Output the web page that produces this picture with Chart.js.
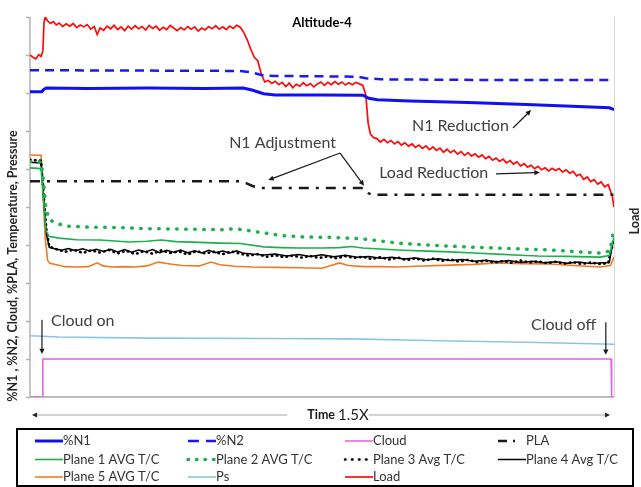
<!DOCTYPE html>
<html>
<head>
<meta charset="utf-8">
<script src="https://cdn.jsdelivr.net/npm/chart.js@4.4.0/dist/chart.umd.min.js"></script>
<style>
body{margin:0;background:#fff;}
canvas{display:block;}
</style>
</head>
<body>
<canvas id="myChart" width="641" height="487"></canvas>
<script>
// x = time in % of the run, y = % of the axis (0-100)
let n1 = [[0,80.3],[2.0,80.3],[2.4,81.0],[2.8,81.3],[10,81.2],[20,81.3],[30,81.2],[36.5,81.3],[38,80.8],[40,79.8],[42,79.5],[50,79.5],[57,79.4],[58,78.6],[59.5,78.2],[65,77.9],[75,77.5],[85,77.0],[95,76.4],[99.2,76.1],[100,75.6]];
let n2 = [[0,86.0],[20,85.9],[36,85.8],[38,85.4],[40,84.6],[42,84.5],[56,84.3],[57.5,83.9],[60,83.6],[80,83.4],[100,83.4]];
let cloud = [[0,0],[2.1,0],[2.2,10],[99.5,10],[99.6,0],[100,0]];
let pla = [[0,56.8],[36,56.8],[37,56.3],[38,55.6],[39,55.1],[40,55.0],[57,55.0],[58,53.6],[58.6,53.2],[100,53.2]];
let plane1 = [[0,60.3],[1.9,60.1],[2.3,52],[2.7,44],[3.2,42.3],[5,41.8],[8,41.4],[12,41.3],[17,40.8],[20,41.0],[22.5,41.3],[25,40.9],[29,40.7],[32.5,40.5],[36,40.4],[40,39.5],[43,39.3],[46,39.2],[50,39.2],[53,39.3],[55,39.6],[57,39.2],[63,38.7],[68,38.4],[72,38.2],[76,37.9],[80,37.6],[84,37.3],[87,37.1],[92,37.0],[97.6,36.8],[99.2,37.2],[100,42.0]];
let plane2 = [[0,62.0],[1.9,61.8],[2.3,57],[2.7,50],[3.2,47],[4,46.0],[6,45.0],[10,44.7],[15,44.6],[20,44.3],[25,44.2],[30,44.1],[33,44.0],[35,44.3],[37,43.9],[40,43.2],[43,42.5],[47,42.1],[52,42.0],[57,41.6],[63,40.5],[68,40.0],[72,39.7],[76,39.4],[80,39.2],[85,38.9],[89,38.7],[94,38.2],[97.6,37.9],[99.3,38.4],[100,44.5]];
let plane3 = [[0,62.4],[1.9,62.2],[2.4,52],[2.8,44],[3.3,39.6],[4.5,38.9],[6,38.2],[7.5,38.8],[9,37.9],[10.5,38.6],[12,38.0],[13.5,38.7],[15,37.8],[16.5,38.5],[18,37.6],[19.5,38.4],[21,37.7],[22.5,38.6],[24,37.9],[25.5,38.3],[27,37.5],[28.5,38.4],[30,37.8],[31.5,38.2],[33,37.6],[34.5,38.3],[36,37.7],[37.5,37.2],[39,37.6],[40.5,36.9],[42,37.3],[43.5,36.8],[45,37.2],[46.5,36.7],[48,37.1],[49.5,36.6],[51,37.0],[52.5,36.5],[54,37.1],[55.5,36.6],[57,36.9],[58.5,36.3],[60,36.8],[61.5,36.2],[63,36.7],[64.5,36.0],[66,36.5],[67.5,35.9],[69,36.4],[70.5,35.8],[72,36.2],[73.5,35.6],[75,36.1],[76.5,35.5],[78,35.9],[79.5,35.4],[81,35.8],[82.5,35.3],[84,35.9],[85.5,35.4],[87,35.7],[88.5,35.2],[90,35.6],[91.5,35.1],[93,35.5],[94.5,35.0],[96,35.4],[97.5,35.0],[99.0,35.2],[99.5,38.5],[100,41.3]];
let plane4 = [[0,61.8],[1.9,61.6],[2.4,51],[2.8,43],[3.3,39.4],[4.2,39.0],[5.4,38.6],[6.6,39.1],[7.8,38.5],[9,39.0],[10.2,38.4],[11.4,38.9],[12.6,38.3],[13.8,38.9],[15,38.2],[16.2,38.8],[17.4,38.1],[18.6,38.7],[19.8,38.2],[21,38.8],[22.2,38.0],[23.4,38.6],[24.6,38.1],[25.8,38.7],[27,38.0],[28.2,38.5],[29.4,37.9],[30.6,38.6],[31.8,38.0],[33,38.4],[34.2,37.9],[35.4,38.5],[36.6,37.8],[38,37.6],[40,37.4],[42,37.6],[44,37.1],[46,37.5],[48,37.0],[50,37.4],[52,36.9],[54,37.3],[56,36.8],[58,37.0],[60,36.5],[62,36.8],[64,36.3],[66,36.6],[68,36.1],[70,36.4],[72,35.9],[74,36.2],[76,35.7],[78,36.0],[80,35.6],[82,35.9],[84,35.4],[86,35.7],[88,35.3],[90,35.6],[92,35.2],[94,35.5],[96,35.1],[98,35.3],[99.2,35.4],[99.6,39],[100,41.8]];
let plane5 = [[0,63.7],[1.9,63.6],[2.2,55],[2.6,42],[3.0,36.0],[3.4,35.2],[4.5,34.8],[6,34.3],[8,34.2],[10,34.3],[11.5,35.3],[12.5,34.5],[14,34.2],[16,34.3],[18,34.2],[20,34.5],[22,35.5],[24,35.0],[26,34.6],[29,34.5],[31,35.5],[32.5,34.8],[35,34.4],[38,34.2],[42,34.1],[46,34.0],[50,33.9],[53,35.3],[54.5,34.6],[57,34.3],[60,34.3],[63,34.2],[66,34.4],[72,34.7],[76,34.9],[80,35.3],[84,35.1],[89,35.0],[93,34.6],[97.6,34.2],[99.4,34.6],[100,36.8]];
let ps = [[0,16.1],[5,15.8],[20,15.5],[40,15.4],[55,15.3],[70,14.8],[85,14.4],[100,13.9]];
let load = [[0,90.0],[0.5,89.4],[1.0,89.0],[1.5,90.1],[1.9,89.6],[2.2,91.0],[2.4,98.5],[2.6,100],[3.0,99.0],[3.5,98.3],[4.0,98.8],[4.5,97.9],[5.0,98.4],[5.6,97.5],[6.2,98.2],[6.8,97.6],[7.4,98.3],[8.0,97.2],[8.6,97.9],[9.2,97.4],[9.8,98.0],[10.4,96.8],[11.0,97.5],[11.5,95.4],[12.0,97.1],[12.6,96.5],[13.2,97.6],[13.8,96.9],[14.4,97.8],[15.0,96.7],[15.6,97.4],[16.2,96.4],[16.8,97.6],[17.4,96.8],[18.0,97.7],[18.6,96.9],[19.2,97.5],[19.8,96.6],[20.4,97.8],[21.0,97.0],[21.6,97.6],[22.2,96.5],[22.8,97.3],[23.4,96.7],[24.0,97.8],[24.6,97.1],[25.2,96.4],[25.8,97.2],[26.4,96.6],[27.0,97.5],[27.6,96.8],[28.2,97.4],[28.8,96.3],[29.4,97.1],[30.0,96.6],[30.6,97.5],[31.2,96.9],[31.8,97.7],[32.4,96.8],[33.0,97.4],[33.6,96.7],[34.2,97.6],[34.8,97.0],[35.4,97.8],[36.0,97.3],[36.5,96.2],[37.2,94.0],[37.8,91.5],[38.4,89.4],[39.0,88.5],[39.6,85.0],[40.2,82.9],[40.8,83.3],[41.4,82.5],[42.0,83.1],[42.6,82.2],[43.2,82.8],[43.8,81.7],[44.4,82.6],[45.0,81.4],[45.6,82.3],[46.2,81.8],[46.8,82.7],[47.4,81.9],[48.0,82.5],[48.6,81.6],[49.2,82.4],[49.8,82.9],[50.4,82.0],[51.0,82.8],[51.6,82.2],[52.2,83.0],[52.8,82.3],[53.4,82.9],[54.0,82.1],[54.6,82.7],[55.2,82.2],[55.8,82.8],[56.4,82.4],[57.0,82.0],[57.5,79.5],[57.9,72.0],[58.3,69.2],[58.8,68.3],[59.4,68.0],[60.0,67.1],[60.6,67.8],[61.2,66.9],[61.8,67.5],[62.4,66.6],[63.0,67.2],[63.6,66.3],[64.2,66.9],[64.8,66.0],[65.4,66.6],[66.0,65.7],[66.6,66.3],[67.2,65.4],[67.8,66.1],[68.4,65.1],[69.0,65.8],[69.6,64.9],[70.2,65.5],[70.8,64.4],[71.4,65.2],[72.0,64.3],[72.6,64.9],[73.2,63.9],[73.8,64.6],[74.4,63.6],[75.0,64.3],[75.6,63.4],[76.2,64.0],[76.8,63.1],[77.4,63.7],[78.0,62.7],[78.6,63.3],[79.2,62.3],[79.8,62.9],[80.4,62.0],[81.0,62.6],[81.6,61.6],[82.2,62.2],[82.8,61.3],[83.4,61.9],[84.0,60.8],[84.6,61.4],[85.2,60.5],[85.8,61.0],[86.4,60.1],[87.0,60.7],[87.6,59.8],[88.2,60.3],[88.8,59.5],[89.4,60.2],[90.0,59.6],[90.6,60.1],[91.2,59.2],[91.8,59.8],[92.4,58.9],[93.0,59.4],[93.6,58.2],[94.2,58.6],[94.8,57.3],[95.4,57.9],[96.0,56.7],[96.6,57.2],[97.2,56.0],[97.8,56.6],[98.4,55.3],[99.0,55.9],[99.4,54.2],[99.7,53.0],[100,50.0]];

let yTicks = [0,10,20,30,40,50,60,70,80,90,100];

// text notes, positions in data units (x = time %, y = axis %)
let notes = [
    {text:'N1 Adjustment', x:34.1, y:66.8},
    {text:'N1 Reduction', x:65.4, y:71.3},
    {text:'Load Reduction', x:59.8, y:58.9},
    {text:'Cloud on', x:3.6, y:20.0},
    {text:'Cloud off', x:85.8, y:18.9}
];
let arrows = [
    [53.1,64.2,40.8,57.1],
    [53.1,64.2,57.2,55.6],
    [82.7,70.8,85.8,75.5],
    [79.8,58.7,87.3,59.1],
    [2.05,20.3,2.05,11.3],
    [98.6,19.7,98.6,11.1]
];

let FONT = 'Lato, "Open Sans", sans-serif';
let toXY = arr => arr.map(p => ({x:p[0], y:p[1]}));

// legend sample dash, where it differs from the line itself
let legendDash = {'%N2':[11,7], 'PLA':[9,6,2,30], 'Plane 2 AVG T/C':[0.5,8], 'Plane 3 Avg T/C':[0.5,6.5]};

let ds = (label, arr, color, width, dash, extra) => Object.assign({
    label: label,
    data: toXY(arr),
    borderColor: color,
    backgroundColor: color,
    borderWidth: width,
    borderDash: dash,
    pointRadius: 0,
    fill: false,
    tension: 0,
    yAxisID: 'y'
}, extra || {});

let datasets = [
    ds('%N1', n1, '#1010F0', 3, []),
    ds('%N2', n2, '#1A1AF0', 2.5, [9,6]),
    ds('Cloud', cloud, '#E55CE5', 1.5, []),
    ds('PLA', pla, '#1A1A1A', 2.5, [10,7,3,7]),
    ds('Plane 1 AVG T/C', plane1, '#1DB04C', 1.6, []),
    ds('Plane 2 AVG T/C', plane2, '#1DB04C', 3.5, [0.5,8.5], {borderCapStyle:'round'}),
    ds('Plane 3 Avg T/C', plane3, '#000000', 2.6, [0.5,4.5], {borderCapStyle:'round'}),
    ds('Plane 4 Avg T/C', plane4, '#000000', 1.5, []),
    ds('Plane 5 AVG T/C', plane5, '#F07A22', 1.6, []),
    ds('Ps', ps, '#8CC6DC', 1.6, []),
    ds('Load', load, '#FF0A0A', 1.7, [], {yAxisID:'y2'})
];

let arrowLine = (ctx, x1, y1, x2, y2, head, color) => {
    let a = Math.atan2(y2 - y1, x2 - x1);
    ctx.strokeStyle = color;
    ctx.fillStyle = color;
    ctx.lineWidth = 1.2;
    ctx.setLineDash([]);
    ctx.beginPath();
    ctx.moveTo(x1, y1);
    ctx.lineTo(x2 - Math.cos(a) * head * 0.8, y2 - Math.sin(a) * head * 0.8);
    ctx.stroke();
    ctx.beginPath();
    ctx.moveTo(x2, y2);
    ctx.lineTo(x2 - head * Math.cos(a - 0.45), y2 - head * Math.sin(a - 0.45));
    ctx.lineTo(x2 - head * Math.cos(a + 0.45), y2 - head * Math.sin(a + 0.45));
    ctx.closePath();
    ctx.fill();
};

let decor = {
    id: 'decor',
    beforeDatasetsDraw(chart) {
        let ctx = chart.ctx, a = chart.chartArea, y = chart.scales.y;
        ctx.save();
        // right frame line
        ctx.strokeStyle = '#D8D8D8';
        ctx.lineWidth = 1;
        ctx.beginPath();
        ctx.moveTo(a.right + 0.5, a.top);
        ctx.lineTo(a.right + 0.5, a.bottom);
        ctx.stroke();
        // left axis + ticks
        ctx.strokeStyle = '#B4B4B4';
        ctx.lineWidth = 1.5;
        ctx.beginPath();
        ctx.moveTo(a.left, a.top);
        ctx.lineTo(a.left, a.bottom);
        yTicks.forEach(v => {
            let py = Math.round(y.getPixelForValue(v)) + 0.5;
            ctx.moveTo(a.left - 4, py);
            ctx.lineTo(a.left, py);
        });
        ctx.stroke();
        // bottom axis
        ctx.strokeStyle = '#BDBDBD';
        ctx.lineWidth = 2;
        ctx.beginPath();
        ctx.moveTo(a.left, a.bottom);
        ctx.lineTo(a.right, a.bottom);
        ctx.stroke();
        ctx.restore();
    },
    afterDraw(chart) {
        let ctx = chart.ctx, a = chart.chartArea;
        let xs = chart.scales.x, ys = chart.scales.y;
        ctx.save();
        ctx.textBaseline = 'middle';

        // title
        ctx.fillStyle = '#000';
        ctx.font = 'bold 13px ' + FONT;
        ctx.textAlign = 'center';
        ctx.fillText('Altitude-4', 322, 23);

        // axis titles
        ctx.save();
        ctx.translate(13, 266);
        ctx.rotate(-Math.PI / 2);
        ctx.font = 'bold 12.5px ' + FONT;
        ctx.fillStyle = '#262626';
        ctx.fillText('%N1 , %N2, Cloud, %PLA, Temperature, Pressure', 0, 0);
        ctx.restore();
        ctx.save();
        ctx.translate(635, 221);
        ctx.rotate(-Math.PI / 2);
        ctx.font = 'bold 12.5px ' + FONT;
        ctx.fillStyle = '#262626';
        ctx.fillText('Load', 0, 0);
        ctx.restore();

        // notes and arrows
        ctx.textAlign = 'left';
        ctx.font = '16px ' + FONT;
        ctx.fillStyle = '#404040';
        notes.forEach(n => ctx.fillText(n.text, xs.getPixelForValue(n.x), ys.getPixelForValue(n.y)));
        arrows.forEach(r => arrowLine(ctx, xs.getPixelForValue(r[0]), ys.getPixelForValue(r[1]),
            xs.getPixelForValue(r[2]), ys.getPixelForValue(r[3]), 6, '#1A1A1A'));

        // time axis with arrows
        let ty = a.bottom + 18;
        ctx.font = 'bold 12.5px ' + FONT;
        let w1 = ctx.measureText('Time ').width;
        ctx.font = '15px ' + FONT;
        let w2 = ctx.measureText('1.5X').width;
        let tx = 338 - (w1 + w2) / 2;
        ctx.fillStyle = '#1A1A1A';
        ctx.font = 'bold 12.5px ' + FONT;
        ctx.fillText('Time ', tx, ty);
        ctx.font = '15px ' + FONT;
        ctx.fillText('1.5X', tx + w1, ty);
        ctx.strokeStyle = '#A6A6A6';
        ctx.lineWidth = 1.2;
        ctx.beginPath();
        ctx.moveTo(tx - 20, ty);
        ctx.lineTo(a.left + 5, ty);
        ctx.moveTo(tx + w1 + w2, ty);
        ctx.lineTo(a.right - 8, ty);
        ctx.stroke();
        ctx.fillStyle = '#222';
        ctx.beginPath();
        ctx.moveTo(a.left + 2, ty);
        ctx.lineTo(a.left + 7, ty - 2.5);
        ctx.lineTo(a.left + 7, ty + 2.5);
        ctx.fill();
        ctx.beginPath();
        ctx.moveTo(a.right - 4, ty);
        ctx.lineTo(a.right - 9, ty - 2.5);
        ctx.lineTo(a.right - 9, ty + 2.5);
        ctx.fill();

        // legend box
        ctx.strokeStyle = '#000';
        ctx.lineWidth = 2;
        ctx.strokeRect(17, 429, 616, 57);
        let cols = [35, 188, 345, 498], rows = [441, 459.5, 477];
        ctx.font = '13px ' + FONT;
        chart.data.datasets.forEach((d, i) => {
            let lx = cols[i % 4], ly = rows[Math.floor(i / 4)];
            ctx.strokeStyle = d.borderColor;
            ctx.lineWidth = d.borderWidth;
            ctx.lineCap = d.borderCapStyle || 'butt';
            ctx.setLineDash(legendDash[d.label] || d.borderDash || []);
            ctx.beginPath();
            ctx.moveTo(lx, ly);
            ctx.lineTo(lx + 28, ly);
            ctx.stroke();
            ctx.setLineDash([]);
            ctx.lineCap = 'butt';
            ctx.fillStyle = '#333';
            ctx.fillText(d.label, lx + 28, ly);
        });
        ctx.restore();
    }
};

new Chart('myChart', {
    type: 'line',
    data: { datasets: datasets },
    options: {
        responsive: false,
        animation: false,
        devicePixelRatio: 1,
        layout: { padding: { left: 30, right: 27, top: 17, bottom: 90 } },
        scales: {
            x: { type: 'linear', min: 0, max: 100, display: false },
            y: { min: 0, max: 100, display: false },
            y2: { min: 0, max: 100, display: false, position: 'right' }
        },
        plugins: { legend: { display: false }, tooltip: { enabled: false } }
    },
    plugins: [decor]
});
</script>
</body>
</html>
